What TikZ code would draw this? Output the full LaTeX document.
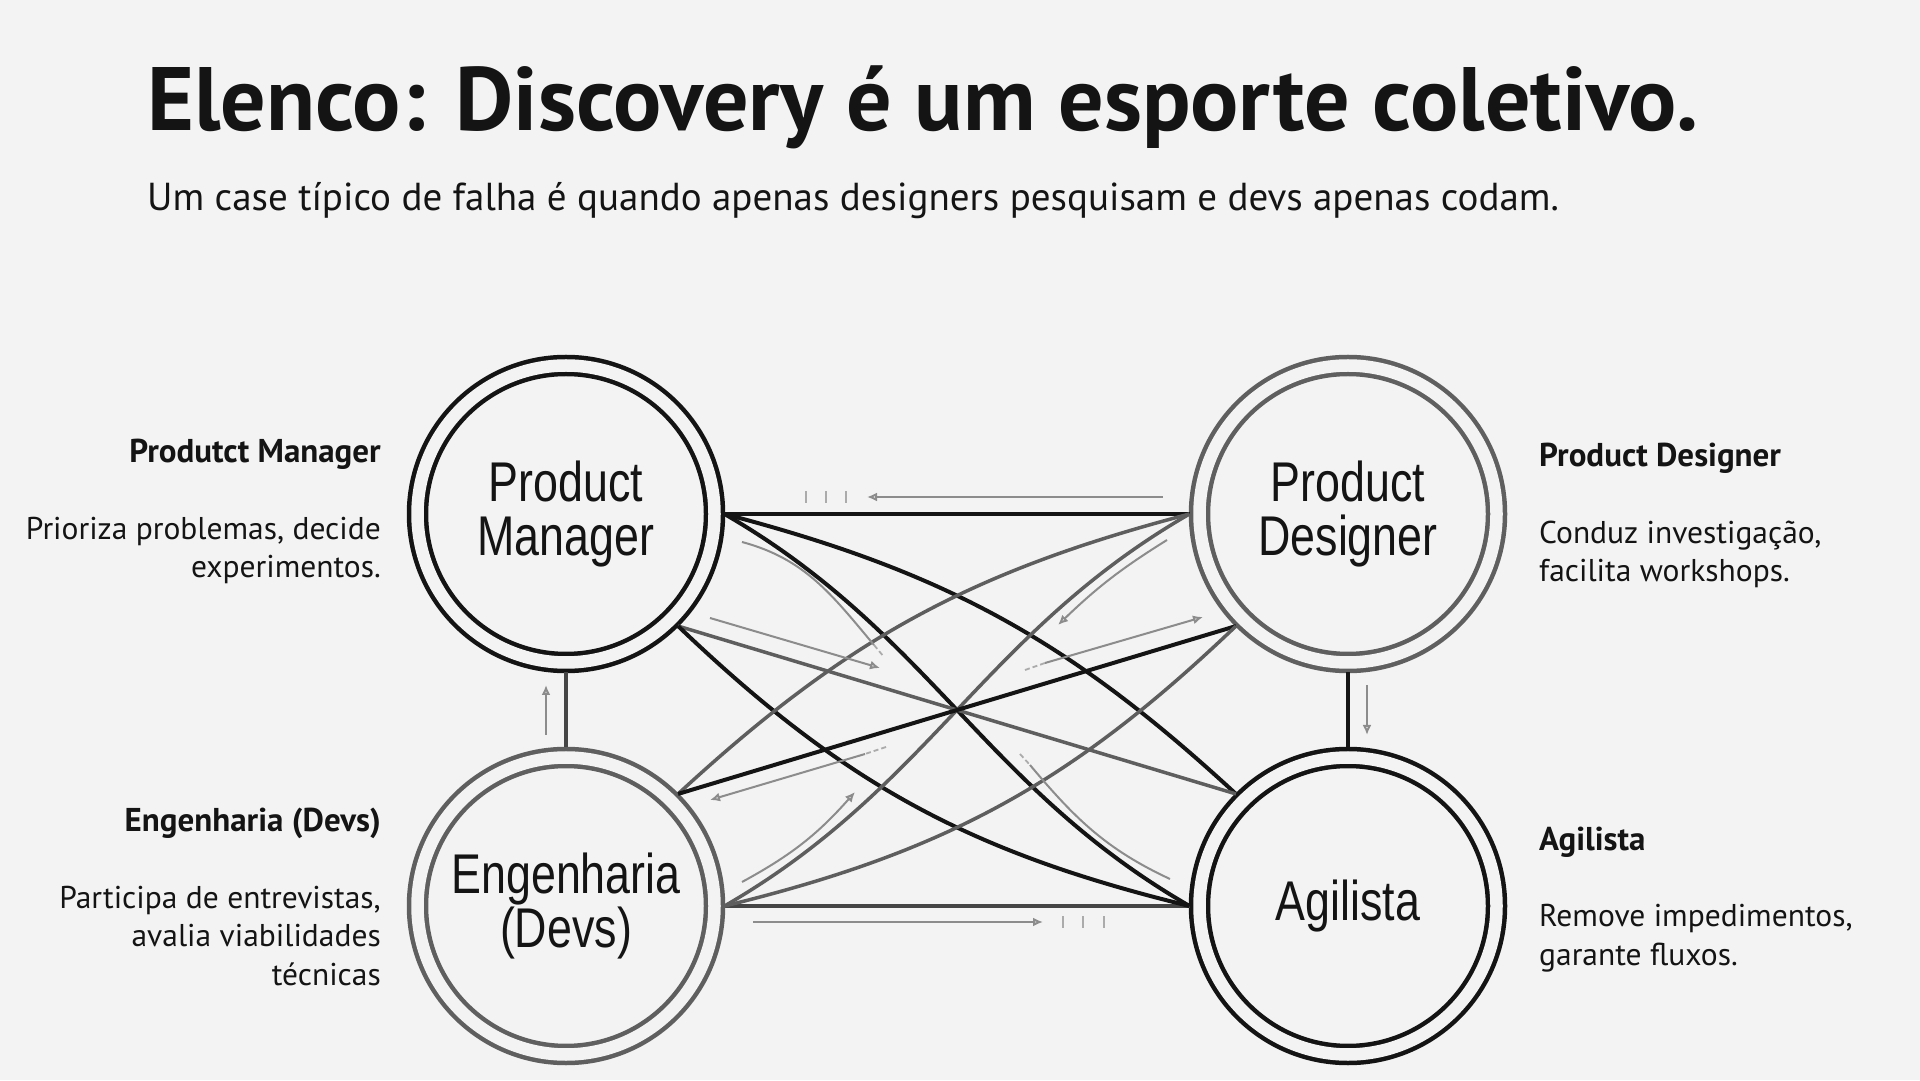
\documentclass[tikz,border=0pt]{standalone}
\usepackage{fontspec}
\setmainfont{PT Sans}
\newfontfamily\ringfont[FakeStretch=0.8]{Liberation Sans}
\usepackage{tikz}
\usetikzlibrary{arrows.meta,positioning,calc}
\definecolor{pageBg}{HTML}{F3F3F3}
\definecolor{inkDark}{HTML}{141414}
\definecolor{inkMid}{HTML}{454545}
\definecolor{inkGray}{HTML}{5E5E5E}
\definecolor{ringGray}{HTML}{5F5F5F}
\definecolor{inkSoft}{HTML}{8C8C8C}
\definecolor{inkTick}{HTML}{ABABAB}
\tikzset{
  roleRing/.style={
    circle,
    minimum size=297pt,
    line width=4.5pt,
    double=pageBg,
    double distance=12.5pt,
    outer sep=10pt,
    inner sep=0pt,
    align=center,
    font=\ringfont\fontsize{56}{54}\selectfont
  },
  roleDark/.style={
    roleRing,
    draw=inkDark,
    text=inkDark
  },
  roleGray/.style={
    roleRing,
    draw=ringGray,
    text=inkDark
  },
  linkDark/.style={
    draw=inkDark,
    line width=4pt
  },
  linkMid/.style={
    draw=inkMid,
    line width=4pt
  },
  linkGray/.style={
    draw=inkGray,
    line width=3.5pt
  },
  flowArrow/.style={
    -{Latex[open,length=10pt,width=9pt]},
    draw=inkSoft,
    line width=2pt
  },
  flowTrail/.style={
    draw=inkSoft,
    line width=2pt
  },
  tickMark/.style={
    draw=inkTick,
    line width=1.8pt
  },
  titleText/.style={
    inner sep=0pt,
    text=inkDark,
    font=\bfseries\fontsize{90}{100}\selectfont
  },
  subText/.style={
    inner sep=0pt,
    text=inkDark,
    font=\fontsize{39}{46}\selectfont
  },
  noteLeft/.style={
    inner sep=0pt,
    align=right,
    text=inkDark,
    font=\fontsize{31.5}{38.5}\selectfont
  },
  noteRight/.style={
    noteLeft,
    align=left
  }
}
\newcommand{\noteHead}[1]{{\bfseries\fontsize{33}{38.5}\selectfont #1}}
\begin{document}
\begin{tikzpicture}[x=1pt,y=1pt]
  \useasboundingbox (0,0) rectangle (1920,1080);
  \fill[pageBg] (0,0) rectangle (1920,1080);

  \node[titleText, anchor=base west] (title) at (147,949) {Elenco: Discovery é um esporte coletivo.};
  \node[subText, anchor=base west] (subtitle) at (147,869) {Um case típico de falha é quando apenas designers pesquisam e devs apenas codam.};

  \node[roleDark] (pm) at (566,566) {Product\\Manager};
  \node[roleGray] (pd) at (1348,566) {Product\\Designer};
  \node[roleGray] (eng) at (566,174) {Engenharia\\(Devs)};
  \node[roleDark] (ag) at (1348,174) {Agilista};

  \draw[linkDark] (pm) -- (pd);
  \draw[linkMid] (eng) -- (ag);
  \draw[linkMid] (pm) -- (eng);
  \draw[linkDark] (pd) -- (ag);
  \draw[linkDark] (pm.east) to[bend left=14] (ag.north west);
  \draw[linkDark] (pm.east) to[out=-30, in=150] (ag.west);
  \draw[linkGray] (pm.south east) -- (ag.north west);
  \draw[linkDark] (pm.south east) to[bend right=15] (ag.west);
  \draw[linkGray] (pd.west) to[bend right=14] (eng.north east);
  \draw[linkGray] (pd.west) to[out=-150, in=30] (eng.east);
  \draw[linkDark] (pd.south west) -- (eng.north east);
  \draw[linkGray] (pd.south west) to[bend left=15] (eng.east);

  \coordinate (topFlowA) at (1163,583);
  \coordinate (topFlowB) at (867,583);
  \coordinate (lowFlowA) at (753,158);
  \coordinate (lowFlowB) at (1043,158);
  \coordinate (pmCurveA) at (742,538);
  \coordinate (pmCurveB) at (874,435);
  \coordinate (pmCurveC) at (884,423);
  \coordinate (pmRayA) at (710,462);
  \coordinate (pmRayB) at (880,412);
  \coordinate (pdCurveA) at (1167,540);
  \coordinate (pdCurveB) at (1058,455);
  \coordinate (pdRayC) at (1025,410);
  \coordinate (pdRayA) at (1045,417);
  \coordinate (pdRayB) at (1203,463);
  \coordinate (engRayC) at (886,333);
  \coordinate (engRayA) at (865,326);
  \coordinate (engRayB) at (710,280);
  \coordinate (engCurveA) at (742,198);
  \coordinate (engCurveB) at (855,288);
  \coordinate (agCurveC) at (1020,326);
  \coordinate (agCurveA) at (1030,315);
  \coordinate (agCurveB) at (1170,201);
  \coordinate (upFlowA) at (546,345);
  \coordinate (upFlowB) at (546,395);
  \coordinate (downFlowA) at (1367,395);
  \coordinate (downFlowB) at (1367,345);

  \draw[flowArrow] (topFlowA) -- (topFlowB);
  \draw[flowArrow] (lowFlowA) -- (lowFlowB);
  \draw[flowTrail] (pmCurveA) to[out=-15, in=130] (pmCurveB);
  \draw[tickMark, dash pattern=on 5pt off 3pt] (pmCurveB) -- (pmCurveC);
  \draw[flowArrow] (pmRayA) -- (pmRayB);
  \draw[flowArrow] (pdCurveA) to[bend right=6] (pdCurveB);
  \draw[tickMark, dash pattern=on 5pt off 3pt] (pdRayC) -- (pdRayA);
  \draw[flowArrow] (pdRayA) -- (pdRayB);
  \draw[tickMark, dash pattern=on 5pt off 3pt] (engRayC) -- (engRayA);
  \draw[flowArrow] (engRayA) -- (engRayB);
  \draw[flowArrow] (engCurveA) to[bend right=10] (engCurveB);
  \draw[tickMark, dash pattern=on 5pt off 3pt] (agCurveC) -- (agCurveA);
  \draw[flowTrail] (agCurveA) to[out=-50, in=155] (agCurveB);
  \draw[flowArrow] (upFlowA) -- (upFlowB);
  \draw[flowArrow] (downFlowA) -- (downFlowB);
  \foreach \tx in {806,826,846} \draw[tickMark] (\tx,577) -- (\tx,589);
  \foreach \tx in {1063,1083,1104} \draw[tickMark] (\tx,152) -- (\tx,164);

  \node[noteLeft, anchor=base east] (pmNote) at (381,502) {\noteHead{Produtct Manager}\\[38pt]Prioriza problemas, decide\\experimentos.};
  \node[noteLeft, anchor=base east] (engNote) at (381,95) {\noteHead{Engenharia (Devs)}\\[38pt]Participa de entrevistas,\\avalia viabilidades\\técnicas};
  \node[noteRight, anchor=base west] (pdNote) at (1539,498) {\noteHead{Product Designer}\\[38pt]Conduz investigação,\\facilita workshops.};
  \node[noteRight, anchor=base west] (agNote) at (1539,115) {\noteHead{Agilista}\\[38pt]Remove impedimentos,\\garante fluxos.};
\end{tikzpicture}
\end{document}
